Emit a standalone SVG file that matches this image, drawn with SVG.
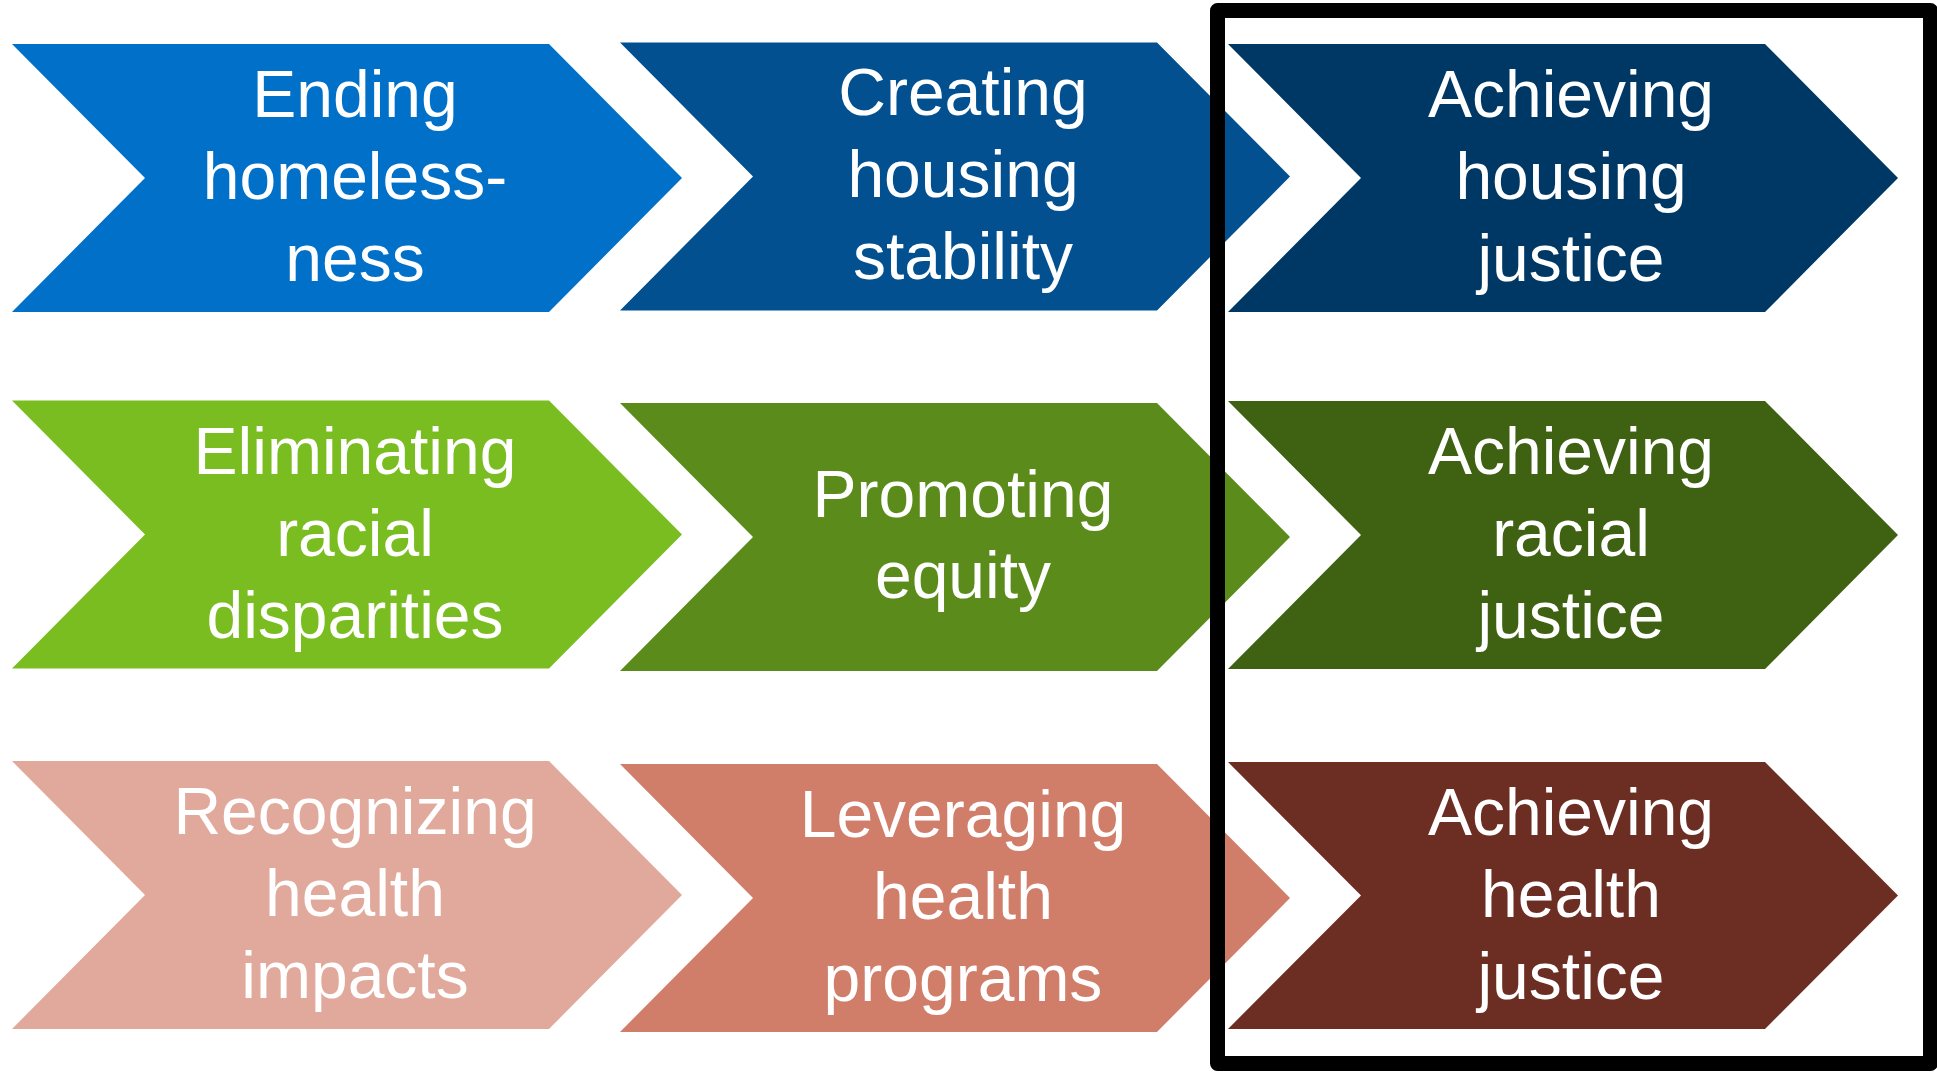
<svg xmlns="http://www.w3.org/2000/svg" width="1937" height="1072" viewBox="0 0 1937 1072">
<style>
  .lbl { font-family: "Liberation Sans", Arial, sans-serif; font-size: 66px; fill: #ffffff; text-anchor: middle; }
  .frame { fill: none; stroke: #000000; stroke-width: 15; stroke-linejoin: round; }
</style>
<rect x="0" y="0" width="1937" height="1072" fill="#ffffff"/>
<g id="nodes">
  <g id="ending-homelessness">
    <path d="M12,44 H549 L682,178 L549,312 H12 L145,178 Z" fill="#0070C9"/>
    <text class="lbl" x="355"><tspan x="355" y="116.5">Ending</tspan><tspan x="355" y="198.5">homeless-</tspan><tspan x="355" y="280.5">ness</tspan></text>
  </g>
  <g id="creating-housing-stability">
    <path d="M620,42.5 H1157 L1290,176.5 L1157,310.5 H620 L753,176.5 Z" fill="#02508F"/>
    <text class="lbl" x="963"><tspan x="963" y="115">Creating</tspan><tspan x="963" y="197">housing</tspan><tspan x="963" y="279">stability</tspan></text>
  </g>
  <g id="achieving-housing-justice">
    <path d="M1228,44 H1765 L1898,178 L1765,312 H1228 L1361,178 Z" fill="#003865"/>
    <text class="lbl" x="1571"><tspan x="1571" y="116.5">Achieving</tspan><tspan x="1571" y="198.5">housing</tspan><tspan x="1571" y="280.5">justice</tspan></text>
  </g>
  <g id="eliminating-racial-disparities">
    <path d="M12,400.5 H549 L682,534.5 L549,668.5 H12 L145,534.5 Z" fill="#7ABD21"/>
    <text class="lbl" x="355"><tspan x="355" y="473.5">Eliminating</tspan><tspan x="355" y="555.5">racial</tspan><tspan x="355" y="637.5">disparities</tspan></text>
  </g>
  <g id="promoting-equity">
    <path d="M620,403 H1157 L1290,537 L1157,671 H620 L753,537 Z" fill="#5B8C1B"/>
    <text class="lbl" x="963"><tspan x="963" y="516.7">Promoting</tspan><tspan x="963" y="598.3">equity</tspan></text>
  </g>
  <g id="achieving-racial-justice">
    <path d="M1228,401 H1765 L1898,535 L1765,669 H1228 L1361,535 Z" fill="#3E6112"/>
    <text class="lbl" x="1571"><tspan x="1571" y="473.5">Achieving</tspan><tspan x="1571" y="555.5">racial</tspan><tspan x="1571" y="637.5">justice</tspan></text>
  </g>
  <g id="recognizing-health-impacts">
    <path d="M12,761 H549 L682,895 L549,1029 H12 L145,895 Z" fill="#E1A99C"/>
    <text class="lbl" x="355"><tspan x="355" y="833.5">Recognizing</tspan><tspan x="355" y="915.5">health</tspan><tspan x="355" y="997.5">impacts</tspan></text>
  </g>
  <g id="leveraging-health-programs">
    <path d="M620,764 H1157 L1290,898 L1157,1032 H620 L753,898 Z" fill="#D07E6A"/>
    <text class="lbl" x="963"><tspan x="963" y="837">Leveraging</tspan><tspan x="963" y="919">health</tspan><tspan x="963" y="1001">programs</tspan></text>
  </g>
  <g id="achieving-health-justice">
    <path d="M1228,762 H1765 L1898,895.5 L1765,1029 H1228 L1361,895.5 Z" fill="#6C2E23"/>
    <text class="lbl" x="1571"><tspan x="1571" y="834.5">Achieving</tspan><tspan x="1571" y="916.5">health</tspan><tspan x="1571" y="998.5">justice</tspan></text>
  </g>
</g>
<g id="connectors"></g>
<g id="highlight-frame">
  <rect class="frame" x="1217.5" y="10.5" width="713" height="1053"/>
</g>
</svg>
